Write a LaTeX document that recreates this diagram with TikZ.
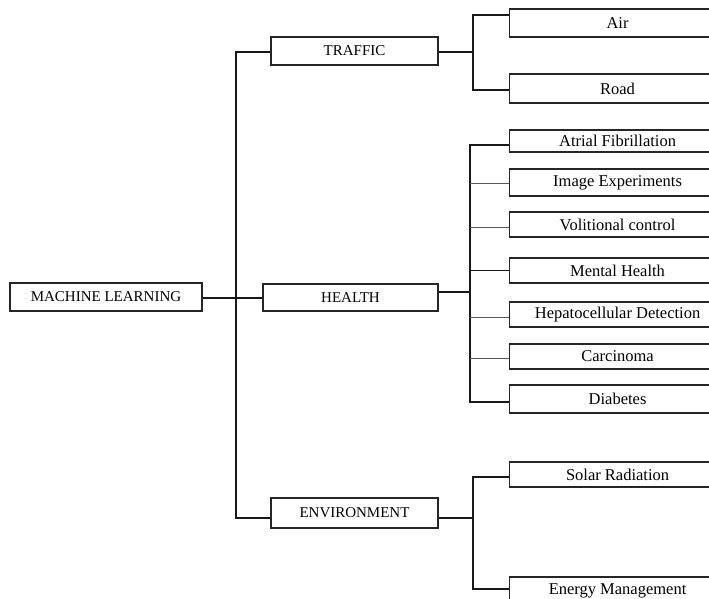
\documentclass[tikz,border=0pt]{standalone}
\usepackage{fontspec}
\setmainfont{Liberation Serif}
\usetikzlibrary{positioning}
\tikzset{
  root/.style={
    draw=black!85,
    line width=1.1pt,
    shape = rectangle,
    inner sep=0pt,
    minimum width=192pt,
    minimum height=28pt,
    font=\fontsize{15}{15}\selectfont
  },
  branch/.style={
    draw=black!85,
    line width=1.1pt,
    shape = rectangle,
    inner sep=0pt,
    minimum width=167pt,
    minimum height=28pt,
    font=\fontsize{15}{15}\selectfont
  },
  leaf/.style={
    draw=black!85,
    line width=1.1pt,
    shape = rectangle,
    anchor=west,
    inner sep=0pt,
    minimum width=216pt,
    minimum height=25pt,
    font=\fontsize{16.5}{16.5}\selectfont
  },
  link/.style={
    line width=1.1pt,
    black!90
  },
  thinlink/.style={
    line width=0.8pt,
    black!65
  }
}
\begin{document}
\begin{tikzpicture}[x=1pt,y=-1pt]
        \useasboundingbox (0,0) rectangle (709,599);
        \clip (0,0) rectangle (709,599);
        \fill[white] (0,0) rectangle (709,599);

        % root and branches
        \node[root] (ml) at (106,297) {MACHINE LEARNING};
        \node[branch] (traffic) at (354.5,51) {TRAFFIC};
        \node[branch, minimum width=175pt, minimum height=27pt] (health) at (350.5,297.5) {HEALTH};
        \node[branch, minimum height=30pt] (env) at (354.5,513) {ENVIRONMENT};

        % leaves
        \node[leaf, minimum height=28pt] (air) at (509,23) {Air};
        \node[leaf, minimum height=29pt] (road) at (509,88.5) {Road};
        \node[leaf, minimum height=22pt] (atrial) at (509,141) {Atrial Fibrillation};
        \node[leaf, minimum height=27pt] (image) at (509,182.5) {Image Experiments};
        \node[leaf] (volitional) at (509,224.5) {Volitional control};
        \node[leaf] (mental) at (509,270.5) {Mental Health};
        \node[leaf] (hepato) at (509,314.5) {Hepatocellular Detection};
        \node[leaf] (carcinoma) at (509,356.5) {Carcinoma};
        \node[leaf, minimum height=28pt] (diabetes) at (509,399) {Diabetes};
        \node[leaf] (solar) at (509,474.5) {Solar Radiation};
        \node[leaf, minimum height=28pt] (energy) at (509,591) {Energy Management};

        % junctions
        \coordinate (mj) at (236,298);
        \coordinate (tj) at (473,52);
        \coordinate (hj) at (470,292);
        \coordinate (ej) at (473,518);

        % root to branches
        \draw[link] ([yshift=-1pt]ml.east) -- (mj);
        \draw[link] ([yshift=-1pt]traffic.west) -| (mj) |- ([yshift=-5pt]env.west);
        \draw[link] (mj) -- (mj -| health.west);

        % traffic
        \draw[link] ([yshift=-1pt]traffic.east) -- (tj);
        \draw[link] ([yshift=8pt]air.west) -| (tj) |- ([yshift=-1.5pt]road.west);

        % health
        \draw[link] ([yshift=5.5pt]health.east) -- (hj);
        \draw[link] ([yshift=-4pt]atrial.west) -| (hj) |- ([yshift=-3pt]diabetes.west);
        \draw[link] (hj |- mental.west) -- (mental.west);
        \foreach \n/\d in {image/0.5, volitional/2.5, hepato/2.5, carcinoma/1.5}{
          \coordinate (end) at ([yshift=-\d pt]\n.west);
          \draw[thinlink] (hj |- end) -- (end);
        }

        % environment
        \draw[link] ([yshift=-5pt]env.east) -- (ej);
        \draw[link] ([yshift=-2.5pt]solar.west) -| (ej) |- ([yshift=2pt]energy.west);
\end{tikzpicture}
\end{document}
